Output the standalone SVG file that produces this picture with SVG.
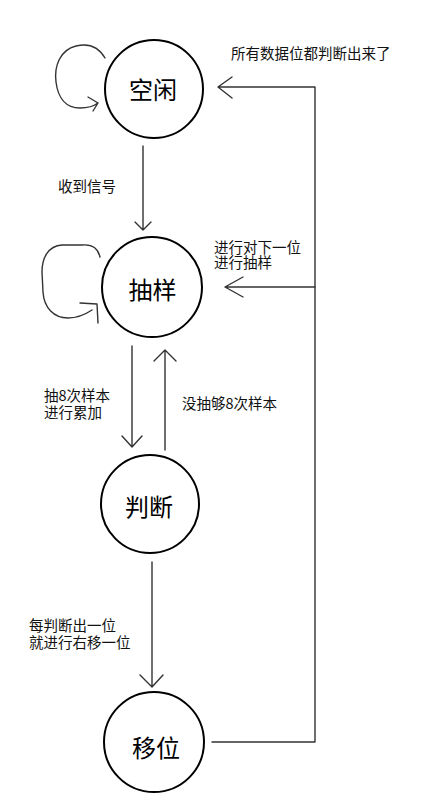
<svg xmlns="http://www.w3.org/2000/svg" width="429" height="812" viewBox="0 0 429 812">
<style>
.node{fill:#fff;stroke:#000;stroke-width:2}
.lbl{font-family:"Noto Sans CJK SC","Noto Sans",sans-serif;font-size:24px;text-anchor:middle;fill:#000}
.t{font-family:"Noto Sans CJK SC","Noto Sans",sans-serif;font-size:14.5px;fill:#111}
.ln{fill:none;stroke:#333;stroke-width:1.4;stroke-linecap:round;stroke-linejoin:round}
</style>
<rect width="429" height="812" fill="#fff"/>
<g id="connectors">
<path class="ln" d="M105,58 C98,46 88,43 76,46 C60,50 54,66 56,82 C58,98 66,108 80,108 C88,108 94,106 98,103 M88,97 L98,103 L93,111"/>
<path class="ln" d="M100,257 C98,248 92,244 82,245 L62,245 C48,246 42,258 42,272 L43,292 C44,308 54,318 68,318 C78,318 86,314 92,310 M80,303 L97,304 L98,323"/>
<path class="ln" d="M143,146 L143,230 M135,222 L143,230 L151,222"/>
<path class="ln" d="M132,346 L132,447 M122,436 L132,447 L142,436"/>
<path class="ln" d="M165,450 L165,350 M154,361 L165,350 L176,361"/>
<path class="ln" d="M152,562 L152,687 M140,675 L152,687 L163,675"/>
<path class="ln" d="M212,742 L315,742 L315,87 L218,87 M232,77 L218,87 L232,98"/>
<path class="ln" d="M315,287 L225,287 M243,277 L225,287 L243,297"/>
</g>
<g id="n-idle"><circle class="node" cx="154" cy="89" r="49"/><text class="lbl" x="153" y="99">空闲</text></g>
<g id="n-sample"><circle class="node" cx="152" cy="287" r="50"/><text class="lbl" x="152.5" y="299">抽样</text></g>
<g id="n-judge"><circle class="node" cx="150" cy="504" r="49"/><text class="lbl" x="149" y="516">判断</text></g>
<g id="n-shift"><circle class="node" cx="154" cy="742" r="50"/><text class="lbl" x="156" y="757">移位</text></g>
<g id="labels">
<text class="t" x="231" y="58.5">所有数据位都判断出来了</text>
<text class="t" x="58" y="191.5">收到信号</text>
<text class="t" x="214" y="252.5">进行对下一位</text>
<text class="t" x="214" y="267.5">进行抽样</text>
<text class="t" x="44" y="400.5">抽8次样本</text>
<text class="t" x="44" y="417.5">进行累加</text>
<text class="t" x="182" y="408.5">没抽够8次样本</text>
<text class="t" x="29" y="630.5">每判断出一位</text>
<text class="t" x="29" y="647.5">就进行右移一位</text>
</g>
</svg>
